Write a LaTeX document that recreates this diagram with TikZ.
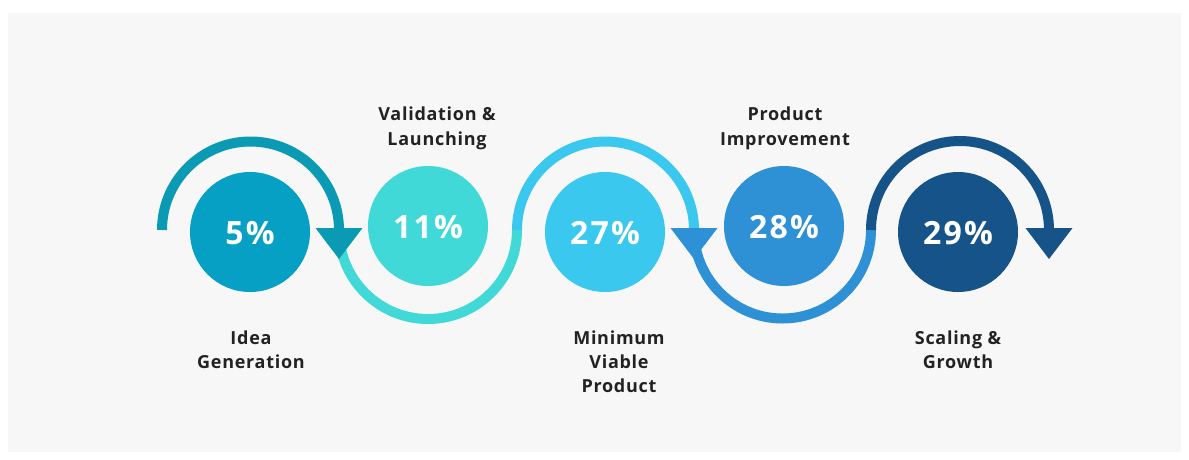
\documentclass[tikz,border=0pt]{standalone}
\usepackage{fontspec}
\usetikzlibrary{calc}
\setmainfont{Open Sans}
\newfontfamily\labelfont[LetterSpace=4]{Open Sans}
\newfontfamily\pctfont[LetterSpace=7]{Open Sans}

\definecolor{bgcol}{HTML}{F7F7F7}
\definecolor{txtcol}{HTML}{222222}
\definecolor{arcA}{HTML}{0A9AB4}
\definecolor{dotA}{HTML}{05A0C4}
\definecolor{arcB}{HTML}{41D9D7}
\definecolor{arcC}{HTML}{3AC8EF}
\definecolor{arcD}{HTML}{2E90D5}
\definecolor{arcE}{HTML}{165389}

\tikzset{
  stage/.style={circle, minimum size=120pt, inner sep=0pt, draw=none},
  pct/.style={anchor=base, text=white, font=\pctfont\bfseries\fontsize{32}{36}\selectfont},
  lbl/.style={anchor=north, align=center, inner sep=0pt, text=txtcol,
              font=\labelfont\bfseries\fontsize{18}{24}\selectfont},
  lblup/.style={lbl, font=\labelfont\bfseries\fontsize{18}{25.5}\selectfont},
  ring/.style={line width=10pt, line cap=butt},
}

\begin{document}
\begin{tikzpicture}[x=1pt, y=-1pt]
  \useasboundingbox (0,0) rectangle (1189,459);
  \fill[white] (0,0) rectangle (1189,459);
  \fill[bgcol] (8,13) rectangle (1181,452);

  % arc end points on the common axis
  \coordinate (p0) at (162,230);
  \coordinate (p1) at (339,230);
  \coordinate (p2) at (517,230);
  \coordinate (p3) at (694,230);
  \coordinate (p4) at (871,230);
  \coordinate (p5) at (1049,230);

  % lower arcs first, the arrow heads sit on their start
  \draw[ring, arcB] (p1) arc[start angle=180, end angle=0, radius=89];
  \draw[ring, arcD] (p3) arc[start angle=180, end angle=0, radius=88.5];
  % upper arcs
  \draw[ring, arcA] (p0) arc[start angle=180, end angle=360, radius=88.5];
  \draw[ring, arcC] (p2) arc[start angle=180, end angle=360, radius=88.5];
  \draw[ring, arcE] (p4) arc[start angle=180, end angle=360, radius=89];

  % arrow heads
  \fill[arcA] ($(p1)+(-23.5,-2)$) -- ($(p1)+(23.5,-2)$) -- ($(p1)+(0,29)$) -- cycle;
  \fill[arcD] ($(p3)+(-23.5,-2)$) -- ($(p3)+(23.5,-2)$) -- ($(p3)+(0,29)$) -- cycle;
  \fill[arcE] ($(p5)+(-23.5,-2)$) -- ($(p5)+(23.5,-2)$) -- ($(p5)+(0,29)$) -- cycle;

  % stage discs
  \node[stage, fill=dotA] (s1) at (250,232) {};
  \node[stage, fill=arcB] (s2) at (428,226) {};
  \node[stage, fill=arcC] (s3) at (605,232) {};
  \node[stage, fill=arcD] (s4) at (784,226) {};
  \node[stage, fill=arcE] (s5) at (958,232) {};

  \node[pct] (t1) at ($(s1.center)+(0,12)$) {5\%};
  \node[pct] (t2) at ($(s2.center)+(0,12)$) {11\%};
  \node[pct] (t3) at ($(s3.center)+(0,12)$) {27\%};
  \node[pct] (t4) at ($(s4.center)+(0,12)$) {28\%};
  \node[pct] (t5) at ($(s5.center)+(0,12)$) {29\%};

  % stage names
  \node[lbl]   (l1) at (251,331) {Idea\\Generation};
  \node[lblup] (l2) at (437,106.5) {Validation \&\\Launching};
  \node[lbl]   (l3) at (619,331) {Minimum\\Viable\\Product};
  \node[lblup] (l4) at (785,106.5) {Product\\Improvement};
  \node[lbl]   (l5) at (958,331) {Scaling \&\\Growth};
\end{tikzpicture}
\end{document}
